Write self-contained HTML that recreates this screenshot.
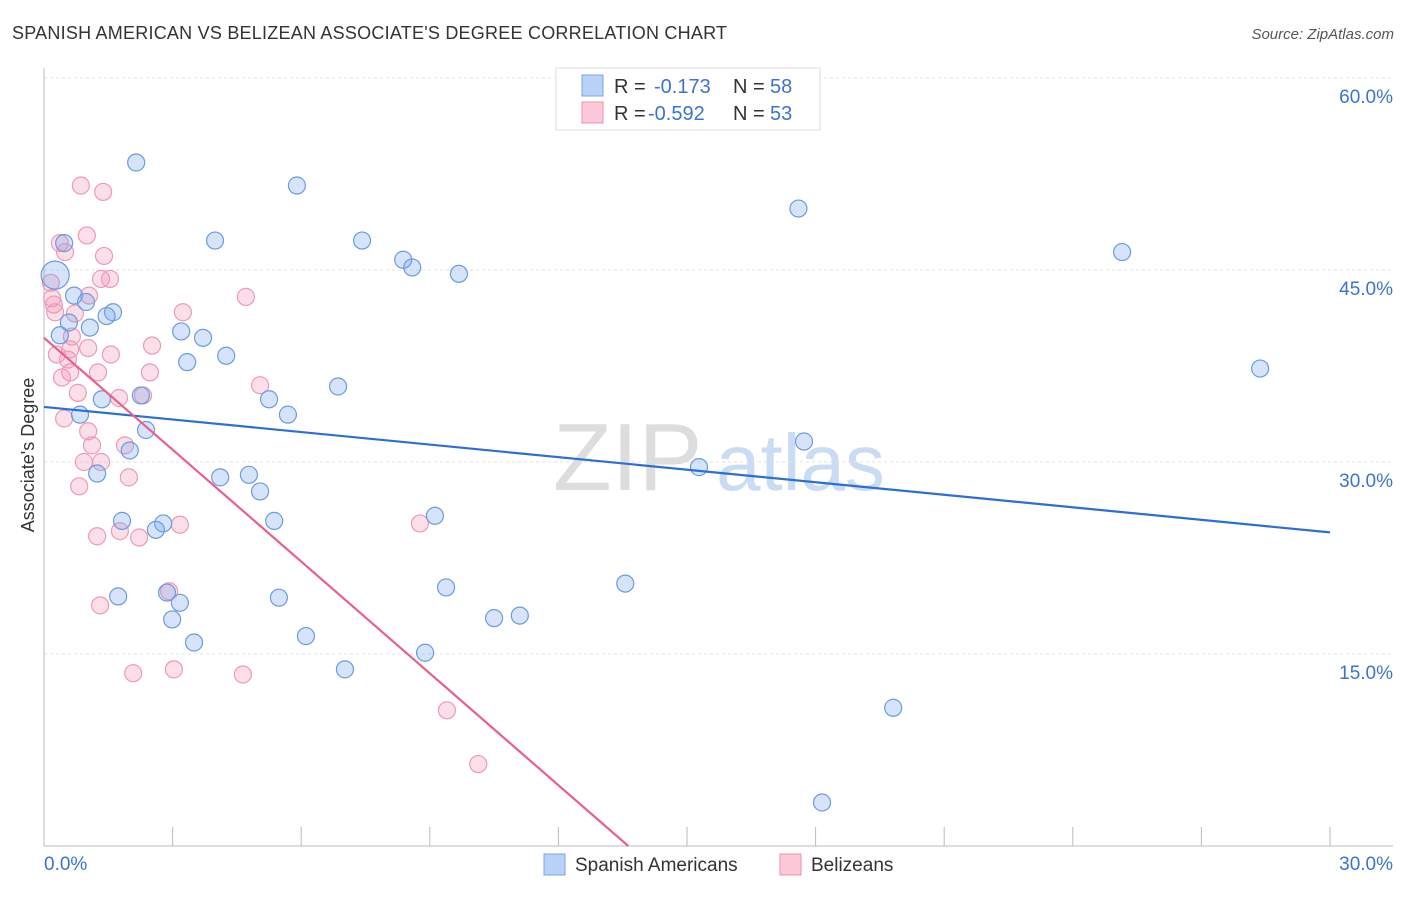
<!DOCTYPE html>
<html><head><meta charset="utf-8"><style>
body{margin:0;background:#fff;font-family:"Liberation Sans",sans-serif}
svg text{font-family:"Liberation Sans",sans-serif}
</style></head><body>
<svg id="chart" width="1406" height="892" viewBox="0 0 1406 892">
<text x="12" y="39" font-size="18" fill="#333" textLength="715">SPANISH AMERICAN VS BELIZEAN ASSOCIATE'S DEGREE CORRELATION CHART</text>
<text x="1394" y="39" font-size="15" fill="#555" text-anchor="end" font-style="italic">Source: ZipAtlas.com</text>
<g><text x="553" y="490" font-size="96" fill="#ddd" font-family="Liberation Serif,serif">ZIP</text><text x="716" y="490" font-size="80" fill="#c9dcf3">atlas</text></g>
<g id="grid"></g><g id="axes"></g><g id="marks"></g>
<text transform="translate(34,455) rotate(-90)" font-size="18" fill="#333" text-anchor="middle">Associate's Degree</text>
<g>
<rect x="556" y="68" width="264" height="62" fill="#fff" stroke="#ddd"/>
<rect x="582" y="75" width="21" height="21" fill="#b8d2f5" stroke="#7aa6e6"/>
<rect x="582" y="102" width="21" height="21" fill="#fbc9d7" stroke="#ee93ae"/>
<text x="614" y="93" font-size="20" fill="#333">R =</text><text x="654" y="93" font-size="20" fill="#3b73d1">-0.173</text>
<text x="733" y="93" font-size="20" fill="#333">N =</text><text x="770" y="93" font-size="20" fill="#3b73d1">58</text>
<text x="614" y="120" font-size="20" fill="#333">R =</text><text x="648" y="120" font-size="20" fill="#3b73d1">-0.592</text>
<text x="733" y="120" font-size="20" fill="#333">N =</text><text x="770" y="120" font-size="20" fill="#3b73d1">53</text>
</g>
<g>
<rect x="544" y="854" width="21" height="21" fill="#b8d2f5" stroke="#7aa6e6"/>
<text x="575" y="871" font-size="19" fill="#333">Spanish Americans</text>
<rect x="780" y="854" width="21" height="21" fill="#fbc9d7" stroke="#ee93ae"/>
<text x="811" y="871" font-size="19" fill="#333">Belizeans</text>
</g>
</svg>
<script>
const blueX=[2.15,5.9,17.6,3.99,7.42,0.47,25.15,8.38,8.59,9.68,0.7,0.98,1.61,1.46,0.58,1.07,0.37,3.2,3.71,4.25,3.34,6.86,2.26,1.35,5.25,5.69,0.84,2.38,2.0,17.73,15.28,1.24,4.11,4.78,5.04,9.12,1.82,5.37,2.78,2.61,9.38,13.56,1.73,2.87,5.48,3.17,10.5,11.1,2.99,6.11,3.5,8.89,7.02,19.81,18.15,28.37,0.26];
const blueY=[53.4,51.6,49.8,47.3,47.3,47.1,46.4,45.8,45.2,44.7,43.0,42.5,41.7,41.4,40.9,40.5,39.9,40.2,39.7,38.3,37.8,35.9,35.2,34.9,34.9,33.7,33.7,32.5,30.9,31.6,29.6,29.1,28.8,29.0,27.7,25.8,25.4,25.4,25.2,24.7,20.2,20.5,19.5,19.8,19.4,19.0,17.8,18.0,17.7,16.4,15.9,15.1,13.8,10.8,3.4,37.3,44.6];
const pinkX=[0.86,1.38,1.0,0.37,0.49,1.4,1.33,1.54,0.16,1.05,4.71,0.19,0.23,0.26,3.24,0.72,0.65,2.52,0.61,1.03,0.3,1.56,0.56,0.61,1.26,2.47,0.42,5.04,0.79,1.75,2.31,0.47,1.03,1.12,1.89,1.33,0.93,1.98,0.82,8.77,3.17,1.77,1.24,2.22,2.92,1.31,3.03,2.08,4.64,9.4,10.13];
const pinkY=[51.6,51.1,47.7,47.1,46.4,46.1,44.3,44.3,44.0,43.0,42.9,42.8,42.3,41.7,41.7,41.6,39.8,39.1,38.8,38.9,38.4,38.4,38.0,37.0,37.0,37.0,36.6,36.0,35.4,35.0,35.2,33.4,32.4,31.3,31.3,30.0,30.0,28.8,28.1,25.2,25.1,24.6,24.2,24.1,19.9,18.8,13.8,13.5,13.4,10.6,6.4];
const blueTrend=[34.3,24.5];
const pinkTrend=[39.7,0];const pinkTrendEndX=13.63;
const yTicks=[15,30,45,60];
const xTickLabels=["0.0%","30.0%"];
const X=v=>44+v/30*1286, Y=v=>846-v/60*768;
const NS="http://www.w3.org/2000/svg";
function mk(tag,attrs,parent){const e=document.createElementNS(NS,tag);for(const k in attrs)e.setAttribute(k,attrs[k]);parent.appendChild(e);return e;}
const grid=document.getElementById('grid'),axes=document.getElementById('axes'),marks=document.getElementById('marks');
yTicks.forEach(t=>{
 const l=mk('line',{x1:44,x2:1393,y1:Y(t),y2:Y(t),stroke:'#e2e2e2','stroke-dasharray':'3,3'},grid);
 
 
 const tx=mk('text',{x:1393,y:Y(t)+25,'font-size':19,fill:'#3b73d1','text-anchor':'end'},axes);
 tx.textContent=t.toFixed(1)+'%';
 
 
});
const ya=mk('line',{x1:44,x2:44,y1:68,y2:846,stroke:'#bbb'},axes);


const xa=mk('line',{x1:44,x2:1393,y1:846,y2:846,stroke:'#bbb'},axes);


for(let i=0;i<=10;i++){const t=mk('line',{x1:X(i*3),x2:X(i*3),y1:827,y2:846,stroke:'#bbb'},axes);
 
 }
[[0,44,'start'],[1,1393,'end']].forEach(([i,x,a])=>{const t=mk('text',{x:x,y:870,'font-size':19,fill:'#3b73d1','text-anchor':a},axes);t.textContent=xTickLabels[i];
 
 });
function dots(xs,ys,fill,stroke,name){xs.forEach((x,i)=>{const c=mk('circle',{cx:X(x),cy:Y(ys[i]),r:(x<0.3&&Math.abs(ys[i]-44.6)<0.5)?14:8.5,fill:fill,stroke:stroke,'stroke-width':1.2},marks);
 
 });}
dots(pinkX,pinkY,'rgba(243,150,178,0.3)','#ef9ab3','belizean-point');
dots(blueX,blueY,'rgba(120,165,235,0.3)','#6a9be3','spanish-american-point');
const bl=mk('line',{x1:X(0),y1:Y(blueTrend[0]),x2:X(30),y2:Y(blueTrend[1]),stroke:'#2b6fd6','stroke-width':2.2},marks);


const pl=mk('line',{x1:X(0),y1:Y(pinkTrend[0]),x2:X(pinkTrendEndX),y2:Y(pinkTrend[1]),stroke:'#e8608c','stroke-width':2.2},marks);


</script>
</body></html>
